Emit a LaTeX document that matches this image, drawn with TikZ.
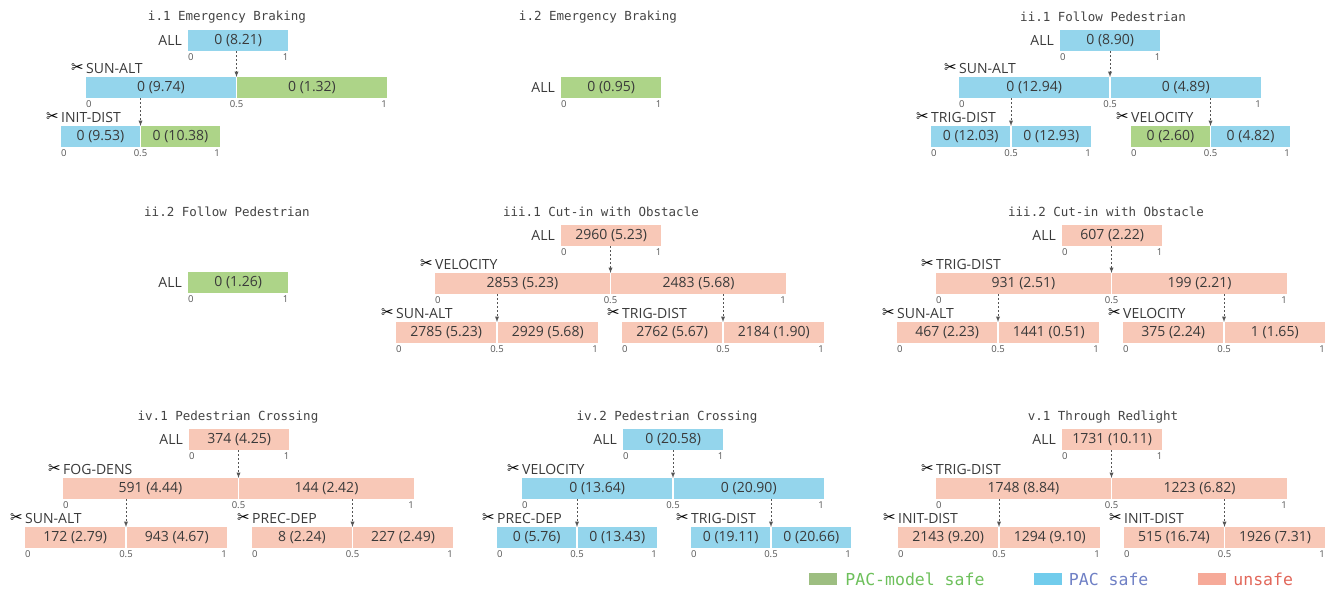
\documentclass[tikz,border=0pt]{standalone}
\usepackage{fontspec}
\usepackage{tikz}
\usetikzlibrary{arrows}
\usetikzlibrary{calc}
\usetikzlibrary{positioning}

\setmainfont{Open Sans}
\newfontfamily\titlefont{DejaVu Sans Mono}
\newfontfamily\symfont{DejaVu Sans}

\definecolor{pacblue}{HTML}{94D5EC}
\definecolor{pacgreen}{HTML}{ADD488}
\definecolor{unsafered}{HTML}{F8C8B7}
\definecolor{txtgray}{HTML}{3A3A3A}
\definecolor{tickgray}{HTML}{555555}
\definecolor{titlegray}{HTML}{444444}
\definecolor{swgreen}{HTML}{9DBE81}
\definecolor{swblue}{HTML}{71CCEC}
\definecolor{swred}{HTML}{F6AA99}
\definecolor{lggreen}{HTML}{6DC05B}
\definecolor{lgblue}{HTML}{6F80C5}
\definecolor{lgred}{HTML}{E2675A}

% root bar: name, left x, top y, colour, text
\newcommand{\allbox}[5]{%
  \node[barnode,fill=#4,minimum width=100pt,anchor=north west] (#1) at (#2,#3) {#5};
  \node[varnode,left=6pt of #1] (#1n) {ALL};
  \node[ticknode,anchor=west] (#1a) at ([yshift=-6pt]#1.south west) {0};
  \node[ticknode,anchor=east] (#1e) at ([yshift=-6pt]#1.south east) {1};
}

% split bar: name, left x, top y, width, cut label, left colour/text, right colour/text
\newcommand{\splitbox}[9]{%
  \pgfmathsetmacro{\halfw}{#4/2-1}%
  \node[barnode,fill=#6,minimum width=\halfw pt,anchor=north west] (#1l) at (#2,#3) {#7};
  \node[barnode,fill=#8,minimum width=\halfw pt,anchor=north east] (#1r) at (#2+#4,#3) {#9};
  \coordinate (#1s) at (#2+#4/2,#3);
  \coordinate (#1m) at (#2+#4/2,#3+21);
  \node[cutnode,anchor=base west] (#1c) at ([yshift=4pt]#1l.north west) {#5};
  \node[scissor,left=2pt of #1c] (#1x) {✂};
  \node[ticknode,anchor=west] (#1a) at ([yshift=-6pt]#1l.south west) {0};
  \node[ticknode] (#1b) at ([yshift=-6pt]#1m) {0.5};
  \node[ticknode,anchor=east] (#1e) at ([yshift=-6pt]#1r.south east) {1};
}

\begin{document}
\begin{tikzpicture}[x=1pt,y=-1pt]

  \tikzstyle{barnode}=[rectangle,inner sep=0pt,minimum height=21pt,font=\fontsize{14}{14}\selectfont,text=txtgray]
  \tikzstyle{varnode}=[inner sep=0pt,font=\fontsize{14}{14}\selectfont,text=txtgray]
  \tikzstyle{cutnode}=[inner sep=0pt,font=\fontsize{14}{14}\selectfont,text=txtgray]
  \tikzstyle{scissor}=[inner sep=0pt,font=\symfont\fontsize{15}{15}\selectfont,text=black]
  \tikzstyle{ticknode}=[inner sep=0pt,font=\fontsize{9.5}{9.5}\selectfont,text=tickgray]
  \tikzstyle{titlenode}=[inner sep=0pt,font=\titlefont\fontsize{12.5}{12.5}\selectfont,text=titlegray]
  \tikzstyle{pointer}=[draw=tickgray,line width=0.9pt,dash pattern=on 2pt off 2pt,->,>=latex]
  \tikzstyle{swatch}=[rectangle,inner sep=0pt,minimum width=28pt,minimum height=12pt]
  \tikzstyle{legnode}=[inner sep=0pt,font=\titlefont\fontsize{16.5}{16.5}\selectfont]

  \useasboundingbox[fill=white] (0,0) rectangle (1333,590);

  % i.1
  \node[titlenode] (ebAt) at (227,17) {i.1 Emergency Braking};
  \allbox{ebA}{188}{30}{pacblue}{0 (8.21)}
  \splitbox{ebA1}{86}{77}{301}{SUN-ALT}{pacblue}{0 (9.74)}{pacgreen}{0 (1.32)}
  \splitbox{ebA2}{61}{126}{159}{INIT-DIST}{pacblue}{0 (9.53)}{pacgreen}{0 (10.38)}

  % i.2
  \node[titlenode] (ebBt) at (598,17) {i.2 Emergency Braking};
  \allbox{ebB}{561}{77}{pacgreen}{0 (0.95)}

  % ii.1
  \node[titlenode] (fpAt) at (1103,17) {ii.1 Follow Pedestrian};
  \allbox{fpA}{1060}{30}{pacblue}{0 (8.90)}
  \splitbox{fpA1}{959}{77}{302}{SUN-ALT}{pacblue}{0 (12.94)}{pacblue}{0 (4.89)}
  \splitbox{fpA2}{931}{126}{160}{TRIG-DIST}{pacblue}{0 (12.03)}{pacblue}{0 (12.93)}
  \splitbox{fpA3}{1131}{126}{159}{VELOCITY}{pacgreen}{0 (2.60)}{pacblue}{0 (4.82)}

  % ii.2
  \node[titlenode] (fpBt) at (227,212) {ii.2 Follow Pedestrian};
  \allbox{fpB}{188}{272}{pacgreen}{0 (1.26)}

  % iii.1
  \node[titlenode] (coAt) at (601,212) {iii.1 Cut-in with Obstacle};
  \allbox{coA}{561}{225}{unsafered}{2960 (5.23)}
  \splitbox{coA1}{435}{273}{351}{VELOCITY}{unsafered}{2853 (5.23)}{unsafered}{2483 (5.68)}
  \splitbox{coA2}{396}{322}{202}{SUN-ALT}{unsafered}{2785 (5.23)}{unsafered}{2929 (5.68)}
  \splitbox{coA3}{622}{322}{202}{TRIG-DIST}{unsafered}{2762 (5.67)}{unsafered}{2184 (1.90)}

  % iii.2
  \node[titlenode] (coBt) at (1106,212) {iii.2 Cut-in with Obstacle};
  \allbox{coB}{1062}{225}{unsafered}{607 (2.22)}
  \splitbox{coB1}{936}{273}{351}{TRIG-DIST}{unsafered}{931 (2.51)}{unsafered}{199 (2.21)}
  \splitbox{coB2}{897}{322}{202}{SUN-ALT}{unsafered}{467 (2.23)}{unsafered}{1441 (0.51)}
  \splitbox{coB3}{1123}{322}{202}{VELOCITY}{unsafered}{375 (2.24)}{unsafered}{1 (1.65)}

  % iv.1
  \node[titlenode] (pcAt) at (228,417) {iv.1 Pedestrian Crossing};
  \allbox{pcA}{189}{429}{unsafered}{374 (4.25)}
  \splitbox{pcA1}{63}{478}{351}{FOG-DENS}{unsafered}{591 (4.44)}{unsafered}{144 (2.42)}
  \splitbox{pcA2}{25}{527}{202}{SUN-ALT}{unsafered}{172 (2.79)}{unsafered}{943 (4.67)}
  \splitbox{pcA3}{252}{527}{201}{PREC-DEP}{unsafered}{8 (2.24)}{unsafered}{227 (2.49)}

  % iv.2
  \node[titlenode] (pcBt) at (667,417) {iv.2 Pedestrian Crossing};
  \allbox{pcB}{623}{429}{pacblue}{0 (20.58)}
  \splitbox{pcB1}{522}{478}{302}{VELOCITY}{pacblue}{0 (13.64)}{pacblue}{0 (20.90)}
  \splitbox{pcB2}{497}{527}{160}{PREC-DEP}{pacblue}{0 (5.76)}{pacblue}{0 (13.43)}
  \splitbox{pcB3}{691}{527}{160}{TRIG-DIST}{pacblue}{0 (19.11)}{pacblue}{0 (20.66)}

  % v.1
  \node[titlenode] (rlAt) at (1103,417) {v.1 Through Redlight};
  \allbox{rlA}{1062}{429}{unsafered}{1731 (10.11)}
  \splitbox{rlA1}{936}{478}{351}{TRIG-DIST}{unsafered}{1748 (8.84)}{unsafered}{1223 (6.82)}
  \splitbox{rlA2}{898}{527}{202}{INIT-DIST}{unsafered}{2143 (9.20)}{unsafered}{1294 (9.10)}
  \splitbox{rlA3}{1124}{527}{201}{INIT-DIST}{unsafered}{515 (16.74)}{unsafered}{1926 (7.31)}

  % pointers
  \draw[pointer] (ebA.south -| ebA1s)  -- (ebA1s);
  \draw[pointer] (ebA1l.south -| ebA2s) -- (ebA2s);

  \draw[pointer] (fpA.south -| fpA1s)  -- (fpA1s);
  \draw[pointer] (fpA1l.south -| fpA2s) -- (fpA2s);
  \draw[pointer] (fpA1r.south -| fpA3s) -- (fpA3s);

  \draw[pointer] (coA.south -| coA1s)  -- (coA1s);
  \draw[pointer] (coA1l.south -| coA2s) -- (coA2s);
  \draw[pointer] (coA1r.south -| coA3s) -- (coA3s);

  \draw[pointer] (coB.south -| coB1s)  -- (coB1s);
  \draw[pointer] (coB1l.south -| coB2s) -- (coB2s);
  \draw[pointer] (coB1r.south -| coB3s) -- (coB3s);

  \draw[pointer] (pcA.south -| pcA1s)  -- (pcA1s);
  \draw[pointer] (pcA1l.south -| pcA2s) -- (pcA2s);
  \draw[pointer] (pcA1r.south -| pcA3s) -- (pcA3s);

  \draw[pointer] (pcB.south -| pcB1s)  -- (pcB1s);
  \draw[pointer] (pcB1l.south -| pcB2s) -- (pcB2s);
  \draw[pointer] (pcB1r.south -| pcB3s) -- (pcB3s);

  \draw[pointer] (rlA.south -| rlA1s)  -- (rlA1s);
  \draw[pointer] (rlA1l.south -| rlA2s) -- (rlA2s);
  \draw[pointer] (rlA1r.south -| rlA3s) -- (rlA3s);

  % legend
  \node[swatch,fill=swgreen] (lgA) at (823,579) {};
  \node[legnode,text=lggreen,right=8pt of lgA] (lgAt) {PAC-model safe};
  \node[swatch,fill=swblue] (lgB) at (1047.5,579) {};
  \node[legnode,text=lgblue,right=7pt of lgB] (lgBt) {PAC safe};
  \node[swatch,fill=swred] (lgC) at (1212,579) {};
  \node[legnode,text=lgred,right=7pt of lgC] (lgCt) {unsafe};

\end{tikzpicture}
\end{document}
